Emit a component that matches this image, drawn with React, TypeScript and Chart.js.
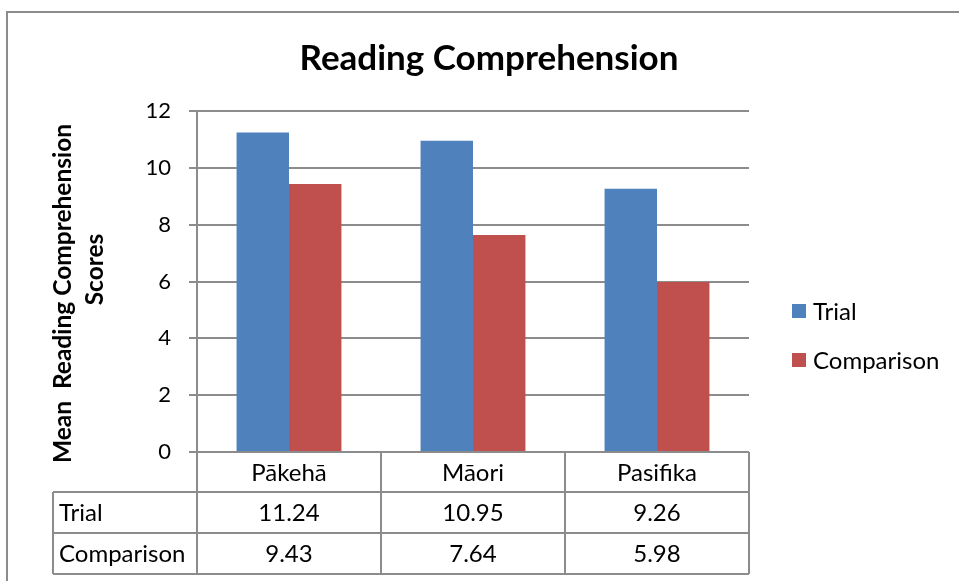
import React, { useEffect, useRef } from "react";
import { Chart, registerables } from "chart.js";

Chart.register(...registerables);

const categories = ["Pākehā", "Māori", "Pasifika"];
const seriesNames = ["Trial", "Comparison"];
const trialValues = [11.24, 10.95, 9.26];
const comparisonValues = [9.43, 7.64, 5.98];
const tableTrial = ["11.24", "10.95", "9.26"];
const tableComparison = ["9.43", "7.64", "5.98"];
const titleText = "Reading Comprehension";
const yTitleLines = ["Mean  Reading Comprehension", "Scores"];

const BLUE = "#4F81BD";
const RED = "#C0504D";
const GRID = "#8c8c8c";
const FONT = "Lato, 'Open Sans', sans-serif";

const decorPlugin = {
  id: "decor",
  afterDraw(chart: any) {
    const ctx = chart.ctx as CanvasRenderingContext2D;
    const area = chart.chartArea;
    const xs = chart.scales.x;
    ctx.save();

    // outer border
    ctx.strokeStyle = GRID;
    ctx.lineWidth = 2;
    ctx.strokeRect(7, 12, 1200, 1200);

    // title
    ctx.fillStyle = "#000";
    ctx.font = `bold 35px ${FONT}`;
    ctx.textAlign = "center";
    ctx.textBaseline = "alphabetic";
    ctx.fillText(titleText, 489, 70);

    // y-axis title (rotated)
    const cy = (area.top + area.bottom) / 2;
    ctx.font = `bold 24.5px ${FONT}`;
    ctx.textBaseline = "middle";
    const yTitlePos = [
      { x: 63, y: cy + 12 },
      { x: 95, y: cy - 12 },
    ];
    yTitleLines.forEach((line, i) => {
      ctx.save();
      ctx.translate(yTitlePos[i].x, yTitlePos[i].y);
      ctx.rotate(-Math.PI / 2);
      ctx.fillText(line, 0, 0);
      ctx.restore();
    });

    // legend
    const colors = [BLUE, RED];
    const legendY = [311, 360];
    ctx.font = `24px ${FONT}`;
    ctx.textAlign = "left";
    seriesNames.forEach((name, i) => {
      ctx.fillStyle = colors[i];
      ctx.fillRect(792, legendY[i] - 7, 14, 14);
      ctx.fillStyle = "#000";
      ctx.fillText(name, 813, legendY[i] + 1);
    });

    // data table
    const n = categories.length;
    const catW = (area.right - area.left) / n;
    const rowH = 41;
    const hTop = area.bottom;
    const r1 = hTop + 40;
    const r2 = r1 + rowH;
    const r3 = r2 + rowH;
    const tableLeft = 53;
    ctx.strokeStyle = GRID;
    ctx.lineWidth = 2;
    ctx.beginPath();
    [r1, r2, r3].forEach((y) => {
      ctx.moveTo(tableLeft, y);
      ctx.lineTo(area.right, y);
    });
    ctx.moveTo(tableLeft, r1);
    ctx.lineTo(tableLeft, r3);
    for (let i = 0; i <= n; i++) {
      const x = area.left + catW * i;
      ctx.moveTo(x, hTop);
      ctx.lineTo(x, r3);
    }
    ctx.stroke();

    ctx.fillStyle = "#000";
    ctx.font = `24px ${FONT}`;
    ctx.textBaseline = "middle";
    ctx.textAlign = "center";
    for (let i = 0; i < n; i++) {
      const cx = xs.getPixelForValue(i);
      ctx.fillText(categories[i], cx, (hTop + r1) / 2 + 1);
      ctx.fillText(tableTrial[i], cx, (r1 + r2) / 2 + 1);
      ctx.fillText(tableComparison[i], cx, (r2 + r3) / 2 + 1);
    }
    ctx.textAlign = "left";
    ctx.fillText(seriesNames[0], tableLeft + 6, (r1 + r2) / 2 + 1);
    ctx.fillText(seriesNames[1], tableLeft + 6, (r2 + r3) / 2 + 1);

    ctx.restore();
  },
};

export default function App() {
  const ref = useRef<HTMLCanvasElement | null>(null);
  useEffect(() => {
    if (!ref.current) return;
    const chart = new Chart(ref.current, {
      type: "bar",
      data: {
        labels: categories,
        datasets: [
          { label: seriesNames[0], data: trialValues, backgroundColor: BLUE, borderWidth: 0 },
          { label: seriesNames[1], data: comparisonValues, backgroundColor: RED, borderWidth: 0 },
        ],
      },
      options: {
        responsive: false,
        animation: false,
        layout: { padding: { left: 0, top: 111, right: 210, bottom: 129 } },
        datasets: { bar: { categoryPercentage: 0.57, barPercentage: 1.0 } },
        plugins: {
          legend: { display: false },
          title: { display: false },
          tooltip: { enabled: false },
        },
        scales: {
          x: { display: false },
          y: {
            min: 0,
            max: 12,
            ticks: {
              stepSize: 2,
              color: "#000",
              font: { family: FONT, size: 22 },
              padding: 18,
            },
            grid: { color: GRID, lineWidth: 2, tickLength: 8, drawTicks: true },
            border: { display: true, color: GRID, width: 2 },
            afterFit: (scale: any) => {
              scale.width = 197;
            },
          },
        },
      },
      plugins: [decorPlugin],
    });
    return () => chart.destroy();
  }, []);
  return (
    <div style={{ position: "fixed", left: 0, top: 0, width: 959, height: 581, background: "#fff" }}>
      <canvas ref={ref} width={959} height={581} style={{ display: "block" }} />
    </div>
  );
}
